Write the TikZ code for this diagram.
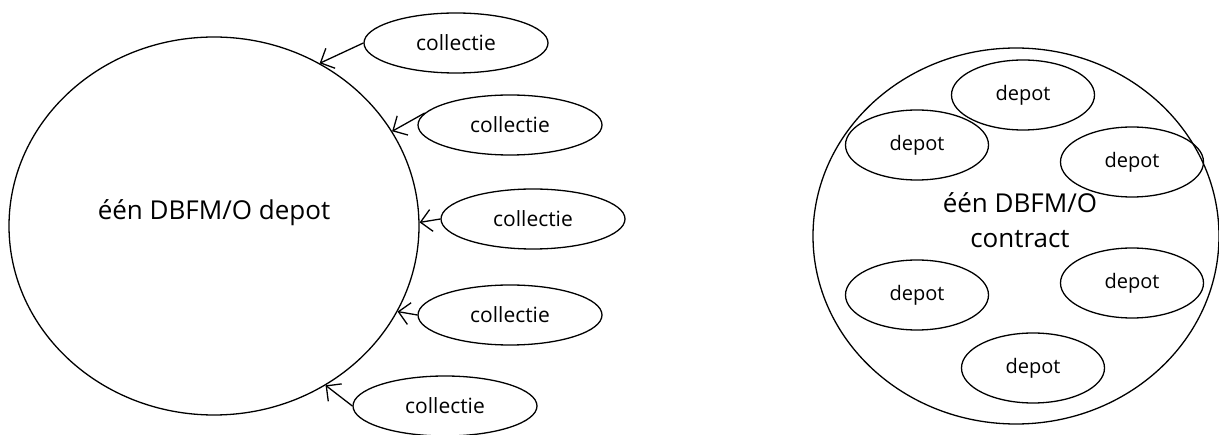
\documentclass[tikz,border=0pt]{standalone}
\usepackage{fontspec}
\setmainfont{Open Sans}
\usetikzlibrary{shapes.geometric,arrows.meta}
\begin{document}
\begin{tikzpicture}[x=1pt,y=-1pt,
  bigell/.style={draw, ellipse, line width=1.3pt, inner sep=0pt, minimum width=410pt, minimum height=378pt},
  coll/.style={draw, ellipse, line width=1.3pt, inner sep=0pt, minimum width=184pt, minimum height=60pt, font=\fontsize{21}{24}\selectfont},
  dep/.style={draw, ellipse, line width=1.3pt, inner sep=0pt, minimum width=143pt, minimum height=70pt, font=\fontsize{20}{24}\selectfont},
  arr/.style={line width=1.3pt, -{Straight Barb[length=11pt,width=22pt,line width=1.3pt]}}]
\useasboundingbox (0,0) rectangle (1219,435);
% left part
\node[bigell] (big) at (214,226) {};
\node[font=\fontsize{26}{30}\selectfont] (bigtext) at (214,213) {één DBFM/O depot};
\node[coll] (c1) at (456,43) {collectie};
\node[coll] (c2) at (510,125) {collectie};
\node[coll] (c3) at (533,219) {collectie};
\node[coll] (c4) at (510,315) {collectie};
\node[coll] (c5) at (445,406) {collectie};
\draw[arr] (c1.west) -- (big.57);
\draw[arr] (c2.172) -- (big.28);
\draw[arr] (c3.west) -- (big.1);
\draw[arr] (c4.west) -- (big.-25);
\draw[arr] (c5.west) -- (big.-55);
% right part
\node[bigell, minimum width=406pt, minimum height=376pt] (ring) at (1016,236) {};
\node[dep] (d1) at (1023,95) {depot};
\node[dep] (d2) at (917,145) {depot};
\node[dep] (d3) at (1132,162) {depot};
\node[dep] (d4) at (917,295) {depot};
\node[dep] (d5) at (1132,283) {depot};
\node[dep] (d6) at (1033,368) {depot};
\node[font=\fontsize{26}{35}\selectfont, align=center] (ctext) at (1020,220) {één DBFM/O\\contract};
\end{tikzpicture}
\end{document}
